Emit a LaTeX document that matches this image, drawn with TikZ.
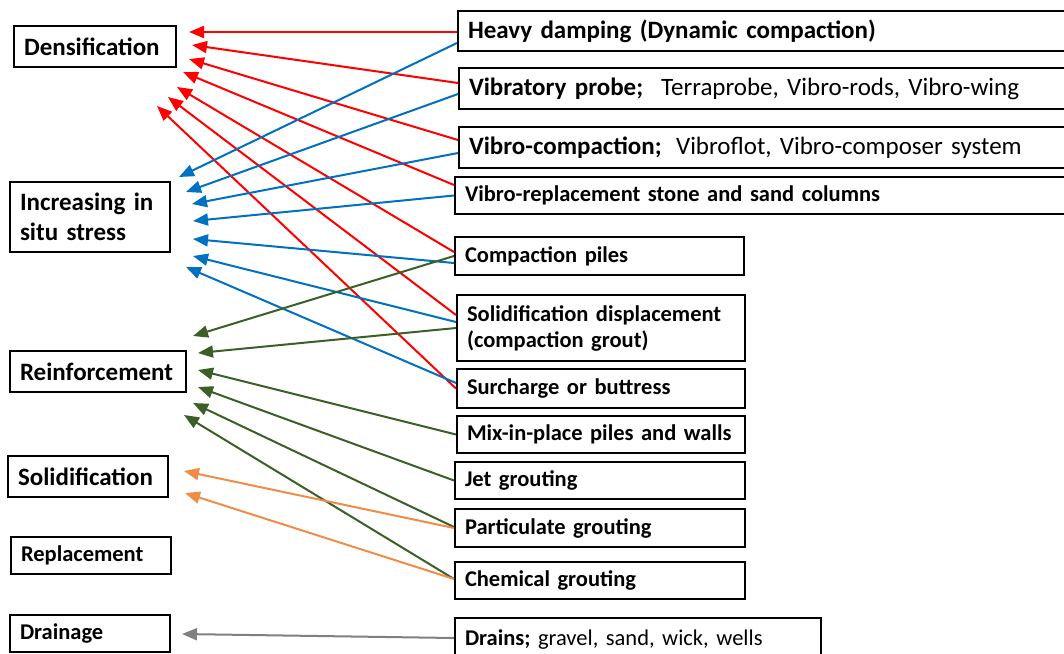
\documentclass[tikz,border=0pt]{standalone}
\usepackage{fontspec}
\setmainfont{Carlito}
\usetikzlibrary{positioning,arrows.meta,calc}

\definecolor{arrblue}{RGB}{0,112,192}
\definecolor{arrgreen}{RGB}{60,95,40}
\definecolor{arrorange}{RGB}{240,140,70}
\definecolor{arrgray}{RGB}{128,128,128}

\begin{document}
\begin{tikzpicture}[x=1pt,y=-1pt,
    box/.style={draw, line width=2pt, anchor=west, inner xsep=10pt, inner ysep=1pt, align=left},
    bigbox/.style={box, font=\fontsize{25}{30}\selectfont\bfseries},
    smallbox/.style={box, font=\fontsize{22.5}{26}\selectfont\bfseries},
    arr/.style={-{Triangle[width=12pt,length=15pt]}, line width=2pt},
    redarrow/.style={arr, color=red},
    bluearrow/.style={arr, color=arrblue},
    greenarrow/.style={arr, color=arrgreen},
    orangearrow/.style={arr, color=arrorange},
    grayarrow/.style={arr, color=arrgray}]

    \useasboundingbox (0,0) rectangle (1064,653);
    \clip (0,0) rectangle (1064,653);

    % left column
    \node[bigbox, text width=142pt, minimum height=41pt] (dens) at (13,46.5) {Densification};
    \node[bigbox, text width=140pt, minimum height=70pt] (situ) at (9,217) {Increasing in\\situ stress};
    \node[bigbox, text width=156pt, minimum height=41pt] (reinf) at (9,371.5) {Reinforcement};
    \node[bigbox, text width=140pt, minimum height=41pt] (solid) at (7,476.5) {Solidification};
    \node[smallbox, text width=140pt, minimum height=37pt] (repl) at (10,555.5) {Replacement};
    \node[smallbox, text width=140pt, minimum height=37pt] (drain) at (9,633.5) {Drainage};

    % right column
    \node[bigbox, text width=640pt, minimum height=40pt] (heavy) at (457,31) {Heavy damping (Dynamic compaction)};
    \node[bigbox, text width=640pt, minimum height=41pt] (probe) at (458,88.5) {Vibratory probe;\hspace{18pt}{\mdseries Terraprobe, Vibro-rods, Vibro-wing}};
    \node[bigbox, text width=640pt, minimum height=41pt] (vcomp) at (458,147.5) {Vibro-compaction;\hspace{6pt} {\mdseries Vibroflot, Vibro-composer system}};
    \node[smallbox, text width=640pt, minimum height=37pt] (vrepl) at (454,195.5) {Vibro-replacement stone and sand columns};
    \node[smallbox, text width=269pt, minimum height=38pt] (cpiles) at (454,256) {Compaction piles};
    \node[smallbox, text width=268pt, minimum height=66pt] (sdisp) at (456,328) {Solidification displacement\\(compaction grout)};
    \node[smallbox, text width=268pt, minimum height=39pt] (surch) at (456,388.5) {Surcharge or buttress};
    \node[smallbox, text width=268pt, minimum height=37pt] (mix) at (456,434.5) {Mix-in-place piles and walls};
    \node[smallbox, text width=270pt, minimum height=37pt] (jet) at (454,480.5) {Jet grouting};
    \node[smallbox, text width=270pt, minimum height=38pt] (partg) at (454,528) {Particulate grouting};
    \node[smallbox, text width=270pt, minimum height=37pt] (chemg) at (454,580.5) {Chemical grouting};
    \node[smallbox, text width=346pt, minimum height=44pt] (drains) at (454,640) {Drains; {\mdseries gravel, sand, wick, wells}};

    % arrow tips
    \coordinate (dens1) at (189,32);
    \coordinate (dens2) at (192,45);
    \coordinate (dens3) at (189,59);
    \coordinate (dens4) at (183,72);
    \coordinate (dens5) at (177,87);
    \coordinate (dens6) at (168,97);
    \coordinate (dens7) at (157,106);

    \coordinate (situ1) at (179,177);
    \coordinate (situ2) at (186,192);
    \coordinate (situ3) at (192,204);
    \coordinate (situ4) at (193,221);
    \coordinate (situ5) at (193,239);
    \coordinate (situ6) at (193,256);
    \coordinate (situ7) at (186,267);

    \coordinate (reinf1) at (193,336);
    \coordinate (reinf2) at (198,353);
    \coordinate (reinf3) at (198,370);
    \coordinate (reinf4) at (198,387);
    \coordinate (reinf5) at (193,403);
    \coordinate (reinf6) at (184,415);

    \coordinate (solid1) at (184,471);
    \coordinate (solid2) at (185,493);

    \coordinate (drain1) at (182,634);

    % densification
    \draw[redarrow] ($(heavy.west)+(0,1)$) -- (dens1);
    \draw[redarrow] ($(probe.west)+(0,-5.5)$) -- (dens2);
    \draw[redarrow] ($(vcomp.west)+(0,-7.5)$) -- (dens3);
    \draw[redarrow] ($(vrepl.west)+(0,-10.5)$) -- (dens4);
    \draw[redarrow] ($(cpiles.west)+(0,-4)$) -- (dens5);
    \draw[redarrow] ($(sdisp.west)+(0,-13)$) -- (dens6);
    \draw[redarrow] (surch.west) -- (dens7);

    % increasing in situ stress
    \draw[bluearrow] ($(heavy.west)+(0,12)$) -- (situ1);
    \draw[bluearrow] ($(probe.west)+(0,5.5)$) -- (situ2);
    \draw[bluearrow] ($(vcomp.west)+(0,5.5)$) -- (situ3);
    \draw[bluearrow] (vrepl.west) -- (situ4);
    \draw[bluearrow] ($(cpiles.west)+(0,7)$) -- (situ5);
    \draw[bluearrow] ($(sdisp.west)+(0,-6)$) -- (situ6);
    \draw[bluearrow] ($(surch.west)+(0,-5.5)$) -- (situ7);

    % reinforcement
    \draw[greenarrow] (cpiles.west) -- (reinf1);
    \draw[greenarrow] (sdisp.west) -- (reinf2);
    \draw[greenarrow] (mix.west) -- (reinf3);
    \draw[greenarrow] (jet.west) -- (reinf4);
    \draw[greenarrow] ($(partg.west)+(0,-1)$) -- (reinf5);
    \draw[greenarrow] ($(chemg.west)+(0,-1.5)$) -- (reinf6);

    % solidification
    \draw[orangearrow] (partg.west) -- (solid1);
    \draw[orangearrow] ($(chemg.west)+(0,-1.5)$) -- (solid2);

    % drainage
    \draw[grayarrow] ($(drains.west)+(0,-2)$) -- (drain1);
\end{tikzpicture}
\end{document}
